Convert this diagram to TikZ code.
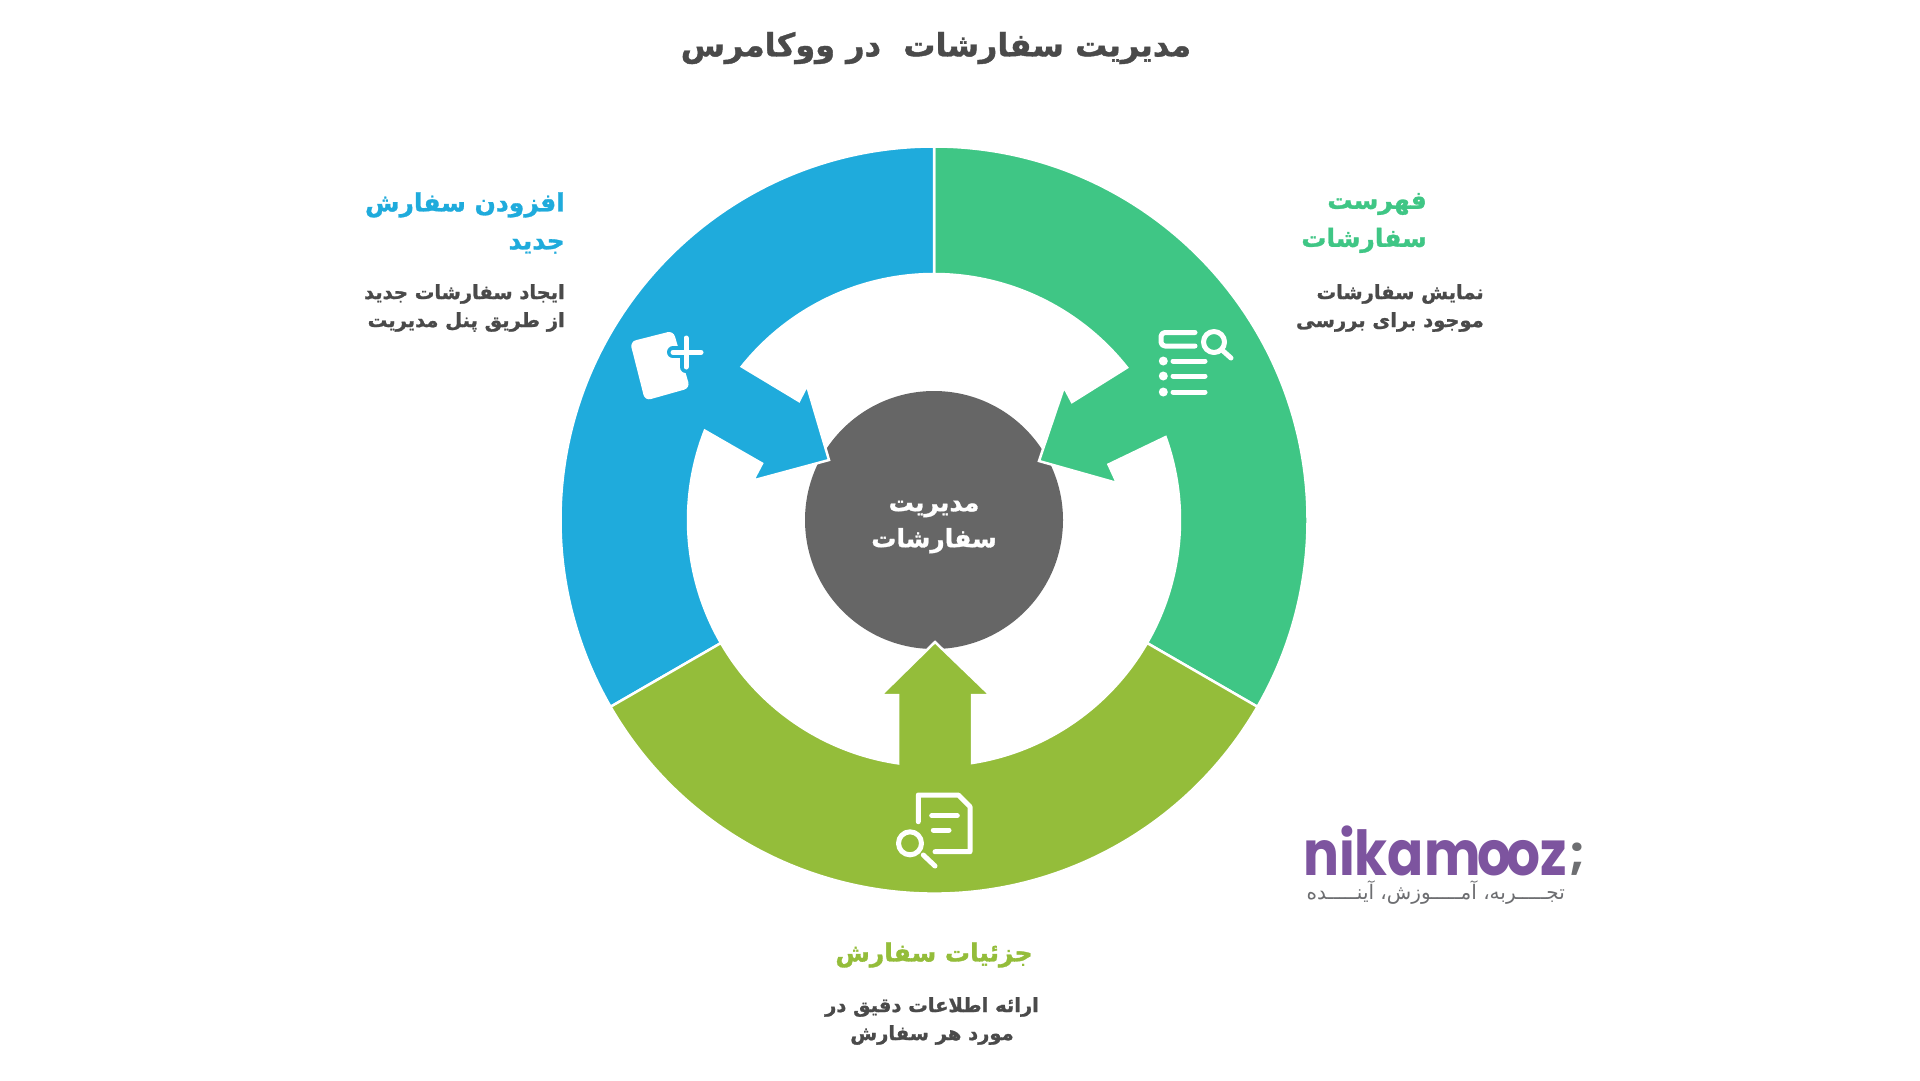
\documentclass[tikz,border=0pt]{standalone}
\usepackage{fontspec}
\usetikzlibrary{positioning}
\TeXXeTstate=1
\newfontfamily\fafont[Script=Arabic,BoldFeatures={FakeBold=1.2}]{DejaVu Sans}
\setsansfont{Poppins}
\newcommand{\fa}[1]{\beginR #1\endR}
\definecolor{bluec}{HTML}{1FABDC}
\definecolor{greenc}{HTML}{3FC685}
\definecolor{olivec}{HTML}{94BD3A}
\definecolor{hubc}{HTML}{666666}
\definecolor{textc}{HTML}{4A4A4A}
\definecolor{logoc}{HTML}{7D549F}
\definecolor{taglinec}{HTML}{6D6E71}
\tikzset{
	segment/.style={draw=white, line width=2.5pt, miter limit=20},
	icon/.style={draw=white, line width=5pt, line cap=round, line join=round},
	heading/.style={font=\fafont\bfseries\fontsize{25}{38}\selectfont, align=right, anchor=east, inner sep=0pt},
	detail/.style={font=\fafont\bfseries\fontsize{19.5}{28}\selectfont, text=textc, align=right, anchor=east, inner sep=0pt},
}

\begin{document}
\begin{tikzpicture}[x=1pt, y=1pt]
	\useasboundingbox (0,0) rectangle (1920,-1080);
	\fill [white] (0,0) rectangle (1920,-1080);

	\node [inner sep=0pt, font=\fafont\bfseries\fontsize{32}{40}\selectfont, text=textc] (title) at (936,-48) {\fa{مدیریت سفارشات\ \ در ووکامرس}};

	% hub and the three ring parts
	\node [circle, fill=hubc, minimum size=258pt, inner sep=0pt] (hub) at (934,-520) {};
	\node [inner sep=0pt, text=white, align=center, font=\fafont\bfseries\fontsize{25}{36}\selectfont] (hubtext) at (934,-527) {\fa{مدیریت}\\\fa{سفارشات}};

	\begin{scope}[shift={(934,-520)}]
		\fill [segment, fill=greenc] (90:373.5) arc (90:-30:373.5) -- (-30:246) arc (-30:19.7:246)
			-- (174.5,55.5) -- (183,37) -- (105,59) -- (130,133) -- (138,118) -- (38.3:246) arc (38.3:90:246) -- cycle;
		\fill [segment, fill=bluec] (90:373.5) arc (90:210:373.5) -- (210:246) arc (210:158.7:246)
			-- (-172,56.5) -- (-181,39.5) -- (-105,60) -- (-127,134.5) -- (-135,119) -- (141.4:246) arc (141.4:90:246) -- cycle;
		\fill [segment, fill=olivec] (210:373.5) arc (210:330:373.5) -- (330:246) arc (330:278.9:246)
			-- (38,-175) -- (56,-175) -- (1,-122) -- (-53,-175) -- (-36,-175) -- (261.6:246) arc (261.6:210:246) -- cycle;
	\end{scope}

	% list icon
	\draw [icon, rounded corners=4pt] (1195,-332.5) -- (1161,-332.5) -- (1161,-346) -- (1195,-346);
	\draw [icon] (1214,-342) circle (10.5);
	\draw [icon] (1222,-350) -- (1231,-358);
	\foreach \rowy in {361,376,392} {
		\fill [white] (1163.3,-\rowy) circle (4.5);
		\draw [icon] (1173,-\rowy) -- (1205,-\rowy);
	}

	% add icon
	\fill [white, rounded corners=6pt] (630,-341.7) -- (673.3,-330.7) -- (690,-388) -- (645,-400.7) -- cycle;
	\draw [icon, draw=bluec, line width=12pt] (673,-352.3) -- (701,-352.3);
	\draw [icon, draw=bluec, line width=12pt] (686,-338) -- (686,-367);
	\draw [icon] (673,-352.3) -- (701,-352.3);
	\draw [icon] (686,-338) -- (686,-367);

	% details icon
	\draw [icon] (918.3,-821.7) -- (918.3,-795) -- (958.3,-795) -- (970,-806.7) -- (970,-851.7) -- (935,-851.7);
	\draw [icon] (931.7,-815.7) -- (957.3,-815.7);
	\draw [icon] (933.3,-830) -- (949,-830);
	\draw [icon] (910,-843.3) circle (11.5);
	\draw [icon] (923.3,-855) -- (935,-866);

	% labels
	\node [heading, text=greenc] (listhead) at (1427,-223) {\fa{فهرست}\\\fa{سفارشات}};
	\node [detail] (listtext) at (1484,-308) {\fa{نمایش سفارشات}\\\fa{موجود برای بررسی}};
	\node [heading, text=bluec] (addhead) at (565,-223) {\fa{افزودن سفارش}\\\fa{جدید}};
	\node [detail] (addtext) at (565,-308) {\fa{ایجاد سفارشات جدید}\\\fa{از طریق پنل مدیریت}};
	\node [heading, text=olivec, anchor=center] (dethead) at (934,-955) {\fa{جزئیات سفارش}};
	\node [detail, align=center, anchor=center] (dettext) at (932,-1021) {\fa{ارائه اطلاعات دقیق در}\\\fa{مورد هر سفارش}};

	% logo
	\node [inner sep=0pt, anchor=base west, xscale=0.86, transform shape, text=logoc, font=\sffamily\bfseries\fontsize{62}{62}\selectfont] (logo) at (1303,-875) {nikam\kern-3pt o\kern-6pt oz};
	\node [inner sep=0pt, right=2pt of logo.base east, anchor=base west, yshift=6pt, text=taglinec, font=\sffamily\bfseries\fontsize{46}{46}\selectfont] (semi) {;};
	\node [inner sep=0pt, anchor=base east, text=taglinec, font=\fafont\fontsize{20}{24}\selectfont] (tagline) at (1565,-899) {\fa{تجـــــربه، آمـــــوزش، آینـــــده}};
\end{tikzpicture}
\end{document}
